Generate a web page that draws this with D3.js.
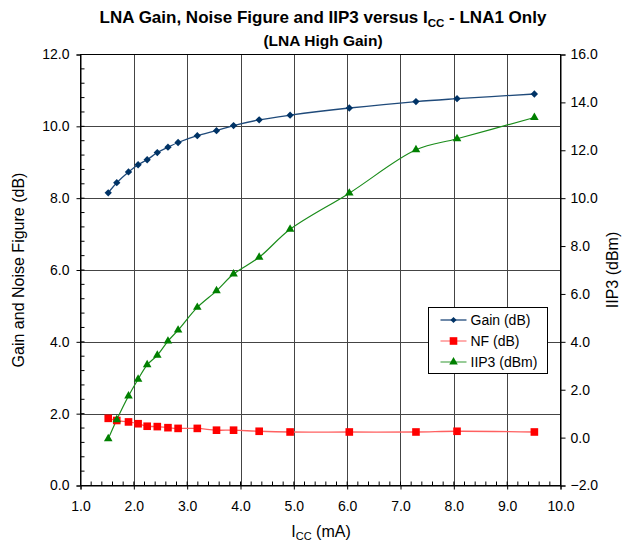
<!DOCTYPE html>
<html>
<head>
<meta charset="utf-8">
<script src="https://cdn.jsdelivr.net/npm/d3@7"></script>
<style>
  body { margin: 0; background: #fff; }
  text { font-family: "Liberation Sans", Arial, sans-serif; fill: #000; }
</style>
</head>
<body>
<div id="chart"></div>
<script>
// values
var icc   = [1.52, 1.68, 1.90, 2.08, 2.25, 2.44, 2.64, 2.83, 3.19, 3.55, 3.87, 4.35, 4.93, 6.04, 7.29, 8.06, 9.51];
var gain  = [8.15, 8.43, 8.73, 8.93, 9.07, 9.27, 9.42, 9.55, 9.74, 9.88, 10.02, 10.18, 10.31, 10.51, 10.69, 10.77, 10.90];
var nf    = [1.87, 1.81, 1.77, 1.72, 1.65, 1.64, 1.61, 1.59, 1.59, 1.54, 1.54, 1.51, 1.49, 1.49, 1.49, 1.51, 1.49];
var iip3  = [-0.05, 0.75, 1.74, 2.44, 3.04, 3.44, 4.03, 4.49, 5.44, 6.13, 6.83, 7.53, 8.70, 10.21, 12.02, 12.48, 13.37];
var xTicks  = [1, 2, 3, 4, 5, 6, 7, 8, 9, 10];
var yTicks  = [0, 2, 4, 6, 8, 10, 12];
var y2Ticks = [-2, 0, 2, 4, 6, 8, 10, 12, 14, 16];
var seriesNames = ["Gain (dB)", "NF (dB)", "IIP3 (dBm)"];

var W = 623, H = 546;
var pLeft = 80.5, pRight = 560.5, pTop = 54.5, pBottom = 485.5;

var svg = d3.select("#chart").append("svg")
    .attr("width", W)
    .attr("height", H);

var x = d3.scaleLinear().domain([1, 10]).range([pLeft, pRight]);
var y = d3.scaleLinear().domain([0, 12]).range([pBottom, pTop]);
var y2 = d3.scaleLinear().domain([-2, 16]).range([pBottom, pTop]);

// gridlines
svg.append("g").selectAll("line")
    .data(xTicks.slice(1, -1))
    .enter().append("line")
    .attr("x1", d => Math.round(x(d)) + 0.5).attr("x2", d => Math.round(x(d)) + 0.5)
    .attr("y1", pTop).attr("y2", pBottom)
    .attr("stroke", "#444").attr("stroke-width", 1);
svg.append("g").selectAll("line")
    .data(yTicks.slice(1, -1))
    .enter().append("line")
    .attr("x1", pLeft).attr("x2", pRight)
    .attr("y1", d => Math.round(y(d)) + 0.5).attr("y2", d => Math.round(y(d)) + 0.5)
    .attr("stroke", "#444").attr("stroke-width", 1);

// plot frame
svg.append("rect")
    .attr("x", pLeft).attr("y", pTop)
    .attr("width", pRight - pLeft).attr("height", pBottom - pTop)
    .attr("fill", "none").attr("stroke", "#000").attr("stroke-width", 1);

// axes
var fmt = d3.format(".1f");
var minorX = d3.range(1, 10.001, 0.2);
var minorY = d3.range(0, 12.001, 0.4);

var xAxis = svg.append("g").attr("transform", "translate(0," + pBottom + ")")
    .call(d3.axisBottom(x).tickValues(xTicks).tickFormat(fmt).tickSize(4).tickPadding(12));
xAxis.selectAll("line.minor").data(minorX).enter().append("line")
    .attr("x1", d => x(d)).attr("x2", d => x(d)).attr("y1", 0).attr("y2", -4)
    .attr("stroke", "#000");

var yAxis = svg.append("g").attr("transform", "translate(" + pLeft + ",0)")
    .call(d3.axisLeft(y).tickValues(yTicks).tickFormat(fmt).tickSize(4).tickPadding(7));
yAxis.selectAll("line.minor").data(minorY).enter().append("line")
    .attr("y1", d => y(d)).attr("y2", d => y(d)).attr("x1", 0).attr("x2", 4)
    .attr("stroke", "#000");

var y2Axis = svg.append("g").attr("transform", "translate(" + pRight + ",0)")
    .call(d3.axisRight(y2).tickValues(y2Ticks).tickFormat(fmt).tickSize(5).tickPadding(5));

[xAxis, yAxis, y2Axis].forEach(function(a) {
    a.select(".domain").attr("stroke", "#000");
    a.selectAll(".tick line").attr("stroke", "#000");
    a.selectAll("text").style("font-size", "14px")
        .style("font-family", "'Liberation Sans', Arial, sans-serif");
});

// series
function line(ys, sc) {
    return d3.line()
        .x((d, i) => x(icc[i]))
        .y(d => sc(d))
        .curve(d3.curveCatmullRom.alpha(0.5))(ys);
}

svg.append("path").attr("d", line(nf, y))
    .attr("fill", "none").attr("stroke", "#ff6060").attr("stroke-width", 1.3);
svg.append("path").attr("d", line(iip3, y2))
    .attr("fill", "none").attr("stroke", "#1a8c1a").attr("stroke-width", 1.2);
svg.append("path").attr("d", line(gain, y))
    .attr("fill", "none").attr("stroke", "#1f4a7a").attr("stroke-width", 1.3);

var diamond = d3.symbol().type(d3.symbolDiamond2).size(34);
var square = d3.symbol().type(d3.symbolSquare).size(58);
var tri = d3.symbol().type(d3.symbolTriangle).size(32);

svg.append("g").selectAll("path").data(nf).enter().append("path")
    .attr("d", square)
    .attr("transform", (d, i) => "translate(" + x(icc[i]) + "," + y(d) + ")")
    .attr("fill", "#ff0000");
svg.append("g").selectAll("path").data(iip3).enter().append("path")
    .attr("d", tri)
    .attr("transform", (d, i) => "translate(" + x(icc[i]) + "," + y2(d) + ")")
    .attr("fill", "#008000");
svg.append("g").selectAll("path").data(gain).enter().append("path")
    .attr("d", diamond)
    .attr("transform", (d, i) => "translate(" + x(icc[i]) + "," + y(d) + ")")
    .attr("fill", "#003366");

// legend
var lg = svg.append("g").attr("transform", "translate(428.5,307.5)");
lg.append("rect").attr("width", 119).attr("height", 66)
    .attr("fill", "#fff").attr("stroke", "#000").attr("stroke-width", 1);
var lgColors = ["#1f4a7a", "#ff8080", "#60b060"];
var lgMarks = [d3.symbol().type(d3.symbolDiamond2).size(24), square, tri];
var lgFill = ["#003366", "#ff0000", "#008000"];
seriesNames.forEach(function(name, i) {
    var yy = 12.5 + i * 21;
    lg.append("line").attr("x1", 12).attr("x2", 38).attr("y1", yy).attr("y2", yy)
        .attr("stroke", lgColors[i]).attr("stroke-width", 1.3);
    lg.append("path").attr("d", lgMarks[i])
        .attr("transform", "translate(25," + yy + ")")
        .attr("fill", lgFill[i]);
    lg.append("text").attr("x", 42).attr("y", yy + 5)
        .style("font-size", "14px").text(name);
});

// titles
var t = svg.append("text").attr("x", 323).attr("y", 23)
    .attr("text-anchor", "middle")
    .style("font-size", "17px").style("font-weight", "bold");
t.append("tspan").text("LNA Gain, Noise Figure and IIP3 versus I");
t.append("tspan").attr("dy", 4).style("font-size", "11.5px").text("CC");
t.append("tspan").attr("dy", -4).text(" - LNA1 Only");

svg.append("text").attr("x", 323).attr("y", 46)
    .attr("text-anchor", "middle")
    .style("font-size", "15.5px").style("font-weight", "bold")
    .text("(LNA High Gain)");

var xt = svg.append("text").attr("x", 321).attr("y", 537)
    .attr("text-anchor", "middle").style("font-size", "16px");
xt.append("tspan").text("I");
xt.append("tspan").attr("dy", 3).style("font-size", "11px").text("CC");
xt.append("tspan").attr("dy", -3).text(" (mA)");

svg.append("text")
    .attr("transform", "translate(24," + ((pTop + pBottom) / 2) + ") rotate(-90)")
    .attr("text-anchor", "middle").style("font-size", "16px")
    .text("Gain and Noise Figure (dB)");

svg.append("text")
    .attr("transform", "translate(618," + ((pTop + pBottom) / 2) + ") rotate(-90)")
    .attr("text-anchor", "middle").style("font-size", "16px")
    .text("IIP3 (dBm)");
</script>
</body>
</html>
